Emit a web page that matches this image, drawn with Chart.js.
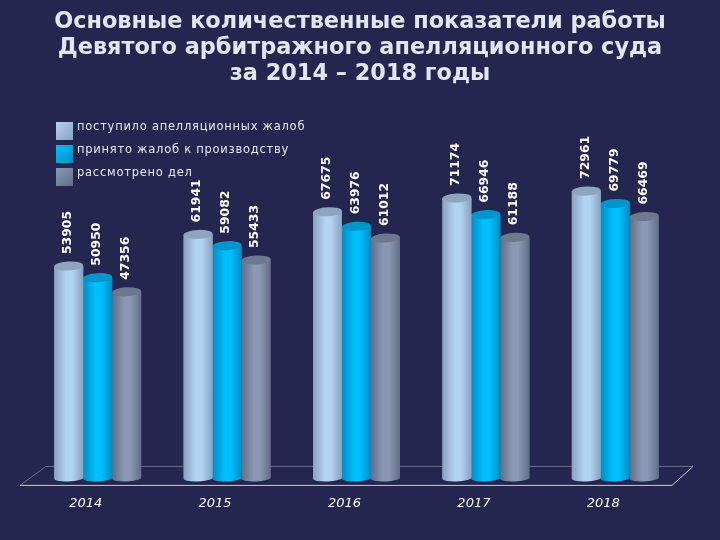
<!DOCTYPE html>
<html>
<head>
<meta charset="utf-8">
<script src="https://cdn.jsdelivr.net/npm/chart.js@4/dist/chart.umd.js"></script>
<style>
html, body { margin: 0; padding: 0; background: #25264f; }
canvas { display: block; }
</style>
</head>
<body>
<canvas id="chart" width="720" height="540"></canvas>
<script>
const years = ['2014', '2015', '2016', '2017', '2018'];
const received = [53905, 61941, 67675, 71174, 72961];
const accepted = [50950, 59082, 63976, 66946, 69779];
const reviewed = [47356, 55433, 61012, 61188, 66469];
const seriesNames = ['поступило апелляционных жалоб', 'принято жалоб к производству', 'рассмотрено дел'];
const titleLines = ['Основные количественные показатели работы', 'Девятого арбитражного апелляционного суда', 'за 2014 – 2018 годы'];

// edge, centre, top cap
const shades = [
    ['#89a1c0', '#b3d3f3', '#8ea4bf'],
    ['#008dc4', '#00bfff', '#0096cc'],
    ['#626e87', '#8b98b4', '#6e7990'],
];

// the plot sits off centre, the title should not
const centerTitle = {
    id: 'centerTitle',
    afterLayout(chart) {
        chart.titleBlock.left = 0;
        chart.titleBlock.right = chart.width;
    }
};

const floor = {
    id: 'floor',
    beforeDatasetsDraw(chart) {
        const { ctx, chartArea: a } = chart;
        ctx.save();
        ctx.lineWidth = 1;
        ctx.strokeStyle = '#6d7088';
        ctx.beginPath();
        ctx.moveTo(a.left - 13, a.bottom + 7);
        ctx.lineTo(a.left + 13, a.bottom - 12);
        ctx.lineTo(a.right + 13, a.bottom - 12);
        ctx.stroke();
        ctx.strokeStyle = '#c9cce0';
        ctx.beginPath();
        ctx.moveTo(a.right + 13, a.bottom - 12);
        ctx.lineTo(a.right - 8, a.bottom + 7);
        ctx.lineTo(a.left - 13, a.bottom + 7);
        ctx.stroke();
        ctx.restore();
    }
};

// turns the flat bars into cylinders and puts the value above each one
const cylinders = {
    id: 'cylinders',
    afterDatasetDraw(chart, args) {
        const { ctx } = chart;
        const i = args.index;
        const [edge, mid, cap] = shades[i];
        const values = chart.data.datasets[i].data;
        chart.getDatasetMeta(i).data.forEach((bar, n) => {
            const left = bar.x - bar.width / 2;
            const rx = bar.width / 2;
            const g = ctx.createLinearGradient(left, 0, left + bar.width, 0);
            g.addColorStop(0, edge);
            g.addColorStop(0.42, mid);
            g.addColorStop(0.62, mid);
            g.addColorStop(1, edge);
            ctx.save();
            ctx.fillStyle = g;
            ctx.beginPath();
            ctx.moveTo(left, bar.y);
            ctx.lineTo(left, bar.base);
            ctx.ellipse(bar.x, bar.base, rx, 3, -0.05, Math.PI, 0, true);
            ctx.lineTo(left + bar.width, bar.y);
            ctx.closePath();
            ctx.fill();
            ctx.fillStyle = cap;
            ctx.beginPath();
            ctx.ellipse(bar.x, bar.y, rx, 4.5, -0.05, 0, Math.PI * 2);
            ctx.fill();

            ctx.translate(bar.x - 1, bar.y - 12);
            ctx.rotate(-Math.PI / 2);
            ctx.fillStyle = '#ffffff';
            ctx.font = 'bold 12.4px "DejaVu Sans"';
            ctx.textAlign = 'left';
            ctx.textBaseline = 'middle';
            ctx.fillText(values[n], 0, 0);
            ctx.restore();
        });
    }
};

const legendBox = {
    id: 'legendBox',
    afterDraw(chart) {
        const { ctx } = chart;
        chart.data.datasets.forEach((ds, i) => {
            const y = 122 + i * 23;
            const g = ctx.createLinearGradient(56, y, 73, y + 18);
            g.addColorStop(0, shades[i][1]);
            g.addColorStop(1, shades[i][0]);
            ctx.save();
            ctx.fillStyle = g;
            ctx.fillRect(56, y, 17, 18);
            ctx.fillStyle = '#e6e9f2';
            ctx.font = '11.5px "DejaVu Sans"';
            ctx.letterSpacing = '0.75px';
            ctx.textBaseline = 'middle';
            ctx.fillText(ds.label, 77, y + 5.5);
            ctx.restore();
        });
    }
};

new Chart(document.getElementById('chart'), {
    type: 'bar',
    data: {
        labels: years,
        datasets: [
            { label: seriesNames[0], data: received, backgroundColor: shades[0][0] },
            { label: seriesNames[1], data: accepted, backgroundColor: shades[1][0] },
            { label: seriesNames[2], data: reviewed, backgroundColor: shades[2][0] },
        ]
    },
    options: {
        responsive: false,
        animation: false,
        layout: { padding: { left: 33, right: 40, top: 7, bottom: 20 } },
        datasets: { bar: { categoryPercentage: 0.672, barPercentage: 1 } },
        scales: {
            y: { display: false, min: 0, max: 97500 },
            x: {
                grid: { display: false },
                border: { display: false },
                ticks: {
                    color: '#ffffff',
                    padding: 9,
                    labelOffset: -12,
                    maxRotation: 0,
                    font: { family: '"DejaVu Sans"', size: 13, style: 'italic' },
                }
            }
        },
        plugins: {
            legend: { display: false },
            tooltip: { enabled: false },
            title: {
                display: true,
                text: titleLines,
                color: '#e2e6ee',
                padding: { top: 1.5, bottom: 6.5 },
                font: { family: '"DejaVu Sans"', size: 22.4, weight: 'bold', lineHeight: 1.18 },
            }
        }
    },
    plugins: [centerTitle, floor, cylinders, legendBox]
});
</script>
</body>
</html>
